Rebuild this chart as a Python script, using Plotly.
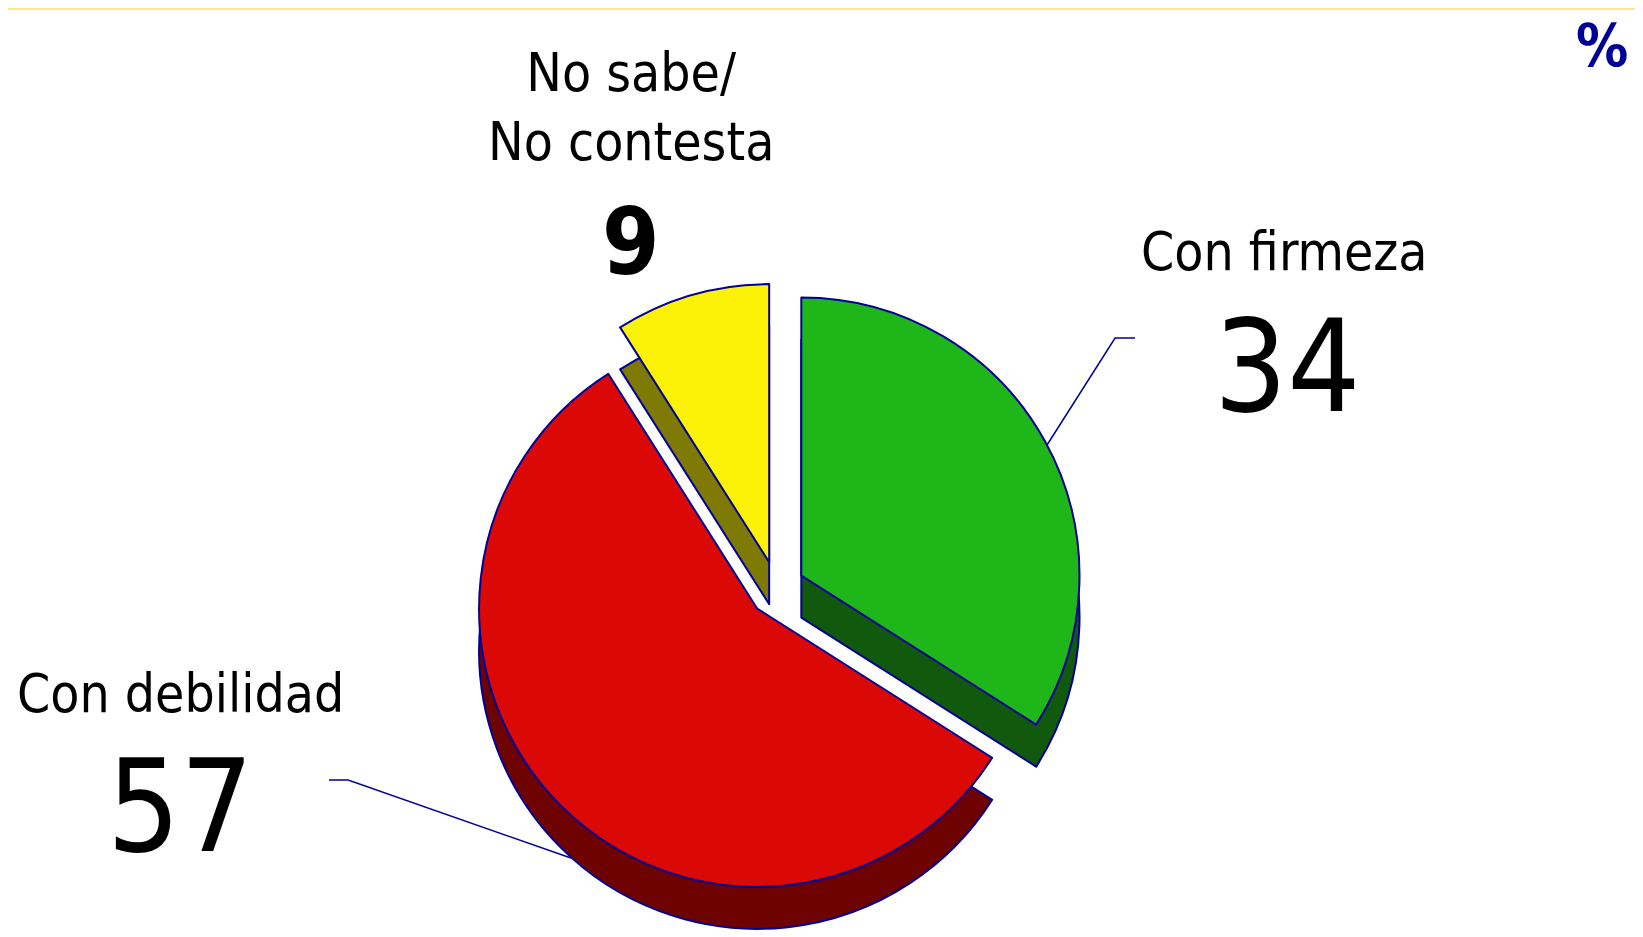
import plotly.graph_objects as go

# ── Data ──────────────────────────────────────────────────────────────────────
labels = ["Con firmeza", "Con debilidad", "No sabe/<br>No contesta"]
values = [34, 57, 9]

face_colors = ["#1FB619", "#DB0906", "#FBF207"]
side_colors = ["#11590D", "#6D0201", "#7F7A03"]
pulls = [0.1, 0.1, 0.1]

FONT = "DejaVu Sans Condensed, DejaVu Sans, sans-serif"
OUTLINE = "#000099"

# page body adds an 8px margin, so the figure is 8px smaller than the window
W, H = 1635, 929

# ── Figure: a dark copy shifted down gives the 3D wall, the top face goes over ──
fig = go.Figure()

common = dict(
    labels=labels,
    values=values,
    sort=False,
    direction="clockwise",
    rotation=0,
    pull=pulls,
    textinfo="none",
    hoverinfo="skip",
    showlegend=False,
)

fig.add_trace(go.Pie(
    **common,
    marker=dict(colors=side_colors, line=dict(color=OUTLINE, width=2)),
    domain=dict(x=[0.2563, 0.6843], y=[0.0, 0.6588]),
))
fig.add_trace(go.Pie(
    **common,
    marker=dict(colors=face_colors, line=dict(color=OUTLINE, width=2)),
    domain=dict(x=[0.2563, 0.6843], y=[0.0452, 0.7040]),
))

# ── Labels ───────────────────────────────────────────────────────────────────
name_pos = [(0.7810, 0.7374), (0.1052, 0.2616), (0.3810, 0.8934)]
value_pos = [(0.7823, 0.6146), (0.1052, 0.1410), (0.3810, 0.7481)]
value_size = [128, 128, 92]
value_weight = ["normal", "normal", "bold"]

annotations = []
for i, lab in enumerate(labels):
    annotations.append(dict(
        text=lab, x=name_pos[i][0], y=name_pos[i][1], xref="paper", yref="paper",
        xanchor="center", yanchor="middle", showarrow=False,
        font=dict(family=FONT, size=53, color="black"),
    ))
    annotations.append(dict(
        text=str(values[i]), x=value_pos[i][0], y=value_pos[i][1],
        xref="paper", yref="paper", xanchor="center", yanchor="middle",
        showarrow=False,
        font=dict(family=FONT, size=value_size[i], color="black", weight=value_weight[i]),
    ))

annotations.append(dict(
    text="%", x=0.992, y=0.998, xref="paper", yref="paper",
    xanchor="right", yanchor="top", showarrow=False,
    font=dict(family=FONT, size=58, color=OUTLINE, weight="bold"),
))

# leader lines + thin yellow rule along the top
shapes = [
    dict(type="line", xref="paper", yref="paper", x0=0, x1=1, y0=0.999, y1=0.999,
         line=dict(color="#FFE38A", width=2)),
    dict(type="path", xref="paper", yref="paper",
         path="M 0.6355 0.5296 L 0.6771 0.6448 L 0.6893 0.6448",
         line=dict(color=OUTLINE, width=1.5)),
    dict(type="path", xref="paper", yref="paper",
         path="M 0.1963 0.1690 L 0.2080 0.1690 L 0.3443 0.0850",
         line=dict(color=OUTLINE, width=1.5)),
]

fig.update_layout(
    width=W,
    height=H,
    margin=dict(l=0, r=0, t=0, b=0),
    paper_bgcolor="white",
    plot_bgcolor="white",
    annotations=annotations,
    shapes=shapes,
)

fig.write_html("out.html")
